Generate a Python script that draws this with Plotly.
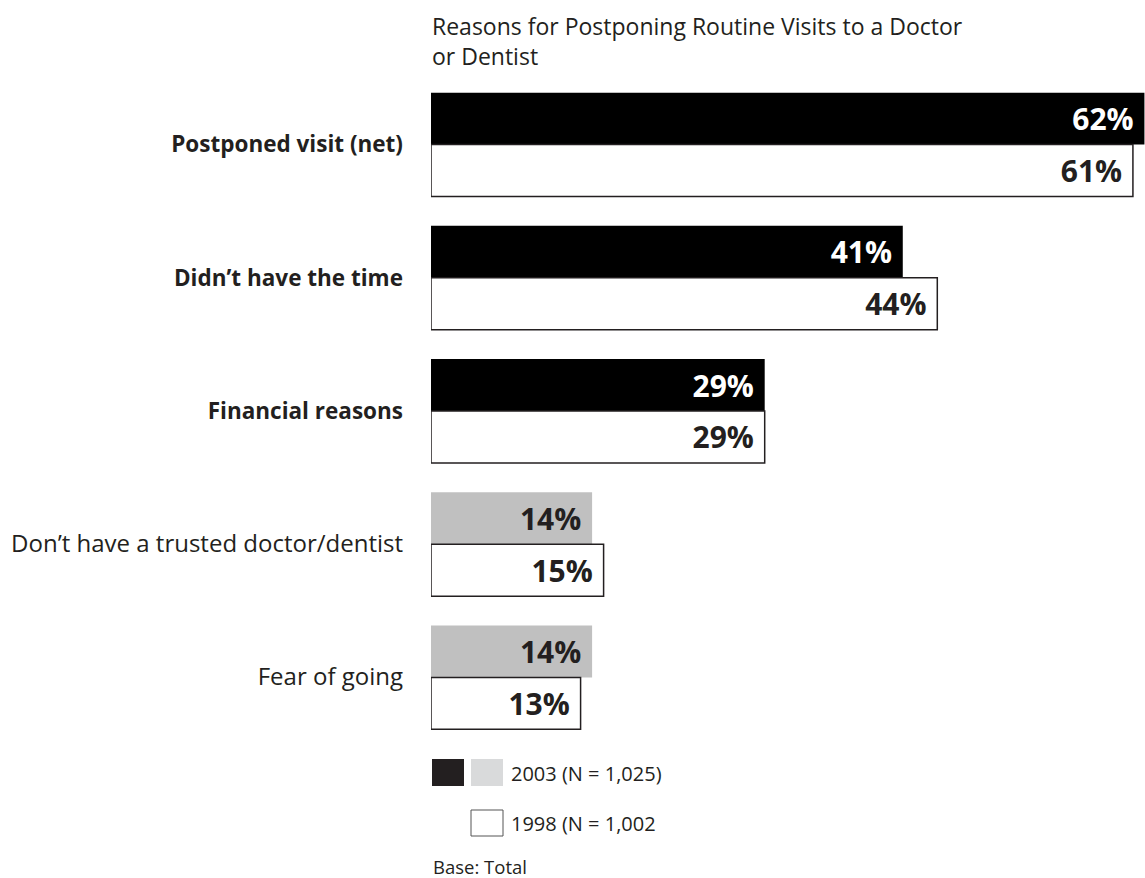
import plotly.graph_objects as go

# Survey results: share of respondents postponing routine visits, by reason
categories = [
    "Postponed visit (net)",
    "Didn’t have the time",
    "Financial reasons",
    "Don’t have a trusted doctor/dentist",
    "Fear of going",
]
bold_category = [True, True, True, False, False]
values_2003 = [62, 41, 29, 14, 14]
values_1998 = [61, 44, 29, 15, 13]
colors_2003 = ["#000000", "#000000", "#000000", "#c0c0c0", "#c0c0c0"]
text_colors_2003 = ["#ffffff", "#ffffff", "#ffffff", "#231f20", "#231f20"]

title_text = "Reasons for Postponing Routine Visits to a Doctor<br>or Dentist"
legend_2003 = "2003 (N = 1,025)"
legend_1998 = "1998 (N = 1,002"
base_note = "Base: Total"

W, H = 1145, 878
L, T = 431, 78
PLOT_W, PLOT_H = W - L, 666
B = H - T - PLOT_H
FONT = "Open Sans"
INK = "#231f20"
BAR_W = 0.39
X_MAX = 62.05


def px_x(px):
    return (px - L) / PLOT_W


def px_y(py):
    return (T + PLOT_H - py) / PLOT_H


positions = list(range(len(categories)))
tick_text = [
    f"<b><span style='font-size:22.5px'>{c}</span></b>" if b
    else f"<span style='font-size:24px'>{c}</span>"
    for c, b in zip(categories, bold_category)
]

value_font = dict(family=FONT, size=30, weight="bold")

fig = go.Figure()
fig.add_trace(go.Bar(
    y=positions, x=values_2003, orientation="h",
    offset=-BAR_W, width=BAR_W,
    marker=dict(color=colors_2003, line=dict(width=0)),
    texttemplate="%{x}%\u00a0", textposition="inside", insidetextanchor="end",
    textangle=0, cliponaxis=False, constraintext="none",
    textfont=dict(**value_font, color=text_colors_2003),
    hoverinfo="skip", showlegend=False,
))
fig.add_trace(go.Bar(
    y=positions, x=values_1998, orientation="h",
    offset=0, width=BAR_W,
    marker=dict(color="#ffffff", line=dict(width=1.5, color=INK)),
    texttemplate="%{x}%\u00a0", textposition="inside", insidetextanchor="end",
    textangle=0, cliponaxis=False, constraintext="none",
    textfont=dict(**value_font, color=INK),
    hoverinfo="skip", showlegend=False,
))

shapes = [
    # legend swatches
    dict(type="rect", xref="paper", yref="paper",
         x0=px_x(432), x1=px_x(464), y0=px_y(786), y1=px_y(759),
         fillcolor=INK, line=dict(width=0)),
    dict(type="rect", xref="paper", yref="paper",
         x0=px_x(471), x1=px_x(503), y0=px_y(786), y1=px_y(759),
         fillcolor="#d9dadb", line=dict(width=0)),
    dict(type="rect", xref="paper", yref="paper",
         x0=px_x(471), x1=px_x(503), y0=px_y(836), y1=px_y(810),
         fillcolor="#ffffff", line=dict(width=1, color="#555555")),
]


def note(text, x_px, y_px, size):
    return dict(text=text, xref="paper", yref="paper", x=px_x(x_px), y=px_y(y_px),
                xanchor="left", yanchor="middle", align="left", showarrow=False,
                font=dict(family=FONT, size=size, color=INK))


annotations = [
    note(title_text, 430, 41, 23),
    note(legend_2003, 509, 773, 20),
    note(legend_1998, 509, 823, 20),
    note(base_note, 431, 866, 18.5),
]

fig.update_layout(
    width=W, height=H,
    margin=dict(l=L, r=0, t=T, b=B, pad=0),
    paper_bgcolor="#ffffff", plot_bgcolor="#ffffff",
    barmode="overlay",
    xaxis=dict(range=[0, X_MAX], visible=False, fixedrange=True),
    yaxis=dict(
        range=[len(categories) - 0.5, -0.5],
        tickmode="array", tickvals=positions, ticktext=tick_text,
        ticks="", showgrid=False, zeroline=False, showline=False,
        ticklabelstandoff=27,
        tickfont=dict(family=FONT, size=22, color=INK),
        fixedrange=True,
    ),
    shapes=shapes,
    annotations=annotations,
    uniformtext=dict(mode=False),
)

fig.write_html("out.html", config={"displayModeBar": False})
